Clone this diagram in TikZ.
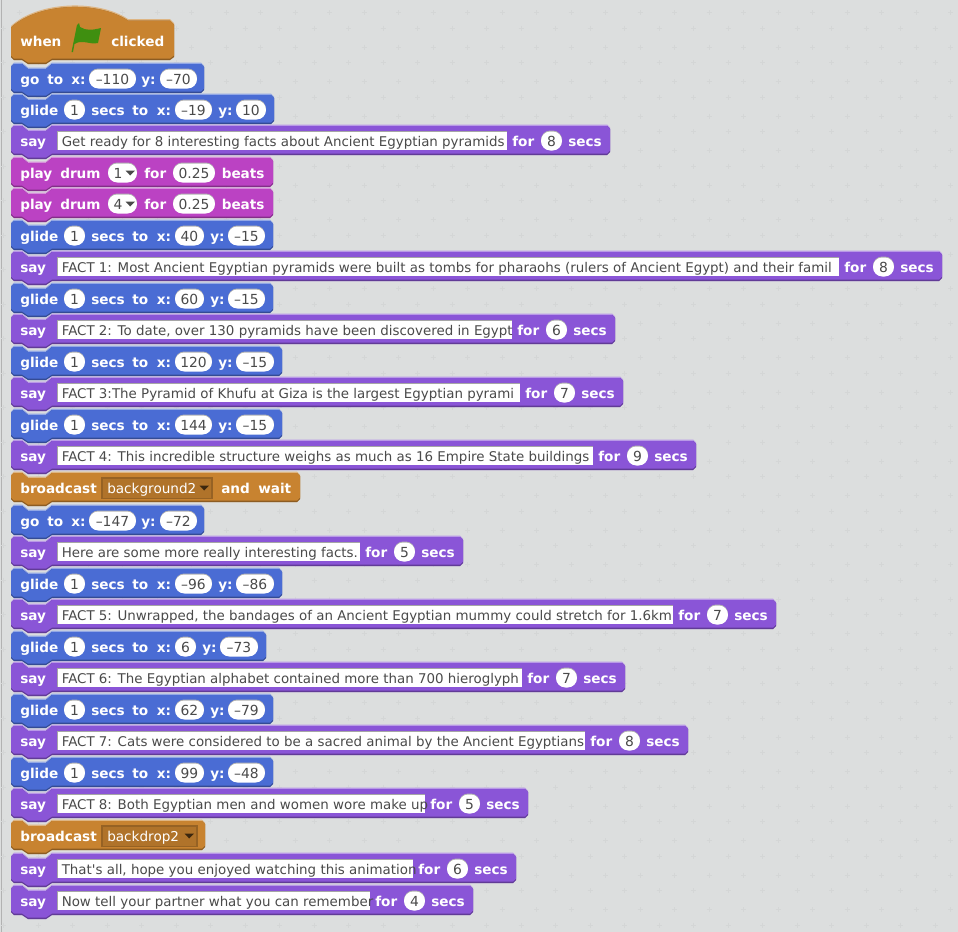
\documentclass[tikz,border=0pt]{standalone}
\usepackage{xcolor}
\usepackage{fontspec}
\usepackage{tikz}
\newfontfamily\blockfont{DejaVu Sans}
\definecolor{worksheet}{HTML}{DCDEDE}
\definecolor{plusmark}{HTML}{D4D6D6}
\definecolor{motion}{HTML}{4A6CD4}
\definecolor{looks}{HTML}{8A55D7}
\definecolor{sound}{HTML}{BB42C3}
\definecolor{events}{HTML}{C88330}
\definecolor{inputtext}{HTML}{4A4A4A}
\definecolor{flaggreen}{HTML}{3F8F10}

\tikzset{
  word/.style={font=\fontsize{10.2}{12}\blockfont\bfseries, text=white, anchor=base west, inner sep=0pt},
  longtext/.style={font=\fontsize{10.05}{12}\blockfont, text=inputtext, anchor=base west, inner sep=0pt},
  numtext/.style={font=\fontsize{10.4}{12}\blockfont, text=inputtext, anchor=base, inner sep=0pt},
  menutext/.style={font=\fontsize{10.2}{12}\blockfont, text=white, anchor=base west, inner sep=0pt}
}

% Umriss: oben, unten, rechts
\newcommand{\blockpath}[3]{(11,#1+3) -- (14,#1) -- (22,#1) -- (28,#1+5) -- (46,#1+5) -- (52,#1) -- (#3-3,#1) -- (#3,#1+3) -- (#3,#2-3) -- (#3-3,#2) -- (52,#2) -- (46,#2+4) -- (28,#2+4) -- (22,#2) -- (14,#2) -- (11,#2-3) -- cycle}
% Umriss Kopfblock: Versatz oben, unten
\newcommand{\hatpath}[2]{(11,26+#1) .. controls (38,1+#1) and (98,-1+#1) .. (128,19+#1) -- (170,19+#1) -- (174,23+#1) -- (174,#2-3) -- (170,#2) -- (52,#2) -- (46,#2+4) -- (28,#2+4) -- (22,#2) -- (14,#2) -- (11,#2-3) -- cycle}

% Block: Mitte, rechts, Farbe
\newcommand{\stackblock}[3]{
  \fill[#3!60!white] \blockpath{#1-16.5}{#1+14}{#2};
  \fill[#3!70!black] \blockpath{#1-15}{#1+14}{#2};
  \fill[#3] \blockpath{#1-15}{#1+12.5}{#2};
}
% Runde Eingabe: Name, links, rechts, Mitte, Text
\newcommand{\numinput}[5]{
  \fill[gray!60, rounded corners=7pt] (#2,#4-10.5) rectangle (#3,#4+8);
  \fill[white, rounded corners=7pt] (#2,#4-9.5) rectangle (#3,#4+9.5);
  \node[numtext] (#1) at ({(#2+#3)/2},#4+5) {#5};
}
% Textfeld-Zeile: Name, Mitte, Feldende, Text, Sekunden
\newcommand{\sayrow}[5]{
  \stackblock{#2}{#3+103}{looks}
  \node[word] (#1say) at (20,#2+5) {say};
  \fill[gray!70] (57,#2-10) rectangle (#3,#2+9);
  \fill[white] (58,#2-9) rectangle (#3,#2+9);
  \node[longtext] (#1text) at (61.5,#2+5) {#4};
  \node[word] (#1for) at (#3+5,#2+5) {for};
  \numinput{#1num}{#3+34}{#3+55}{#2}{#5}
  \node[word] (#1secs) at (#3+61,#2+5) {secs};
}
% Gleiten: Mitte / x-Wert / Ende x-Feld / y-Wert / Ende y-Feld
\newcommand{\gliderow}[5]{
  \stackblock{#1}{#5+8}{motion}
  \node[word] (glide#1) at (20,#1+5) {glide};
  \numinput{secsnum#1}{64}{85}{#1}{1}
  \node[word] (secs#1) at (91,#1+5) {secs};
  \node[word] (to#1) at (132,#1+5) {to};
  \node[word] (xlabel#1) at (156.5,#1+5) {x:};
  \numinput{xnum#1}{175}{#3}{#1}{#2}
  \node[word] (ylabel#1) at (#3+6,#1+5) {y:};
  \numinput{ynum#1}{#3+24}{#5}{#1}{#4}
}
% Gehe zu: Mitte / x-Wert / y-Wert
\newcommand{\gotorow}[3]{
  \stackblock{#1}{204}{motion}
  \node[word] (go#1) at (20,#1+5) {go};
  \node[word] (to#1) at (47,#1+5) {to};
  \node[word] (xlabel#1) at (71,#1+5) {x:};
  \numinput{xnum#1}{89}{136}{#1}{#2}
  \node[word] (ylabel#1) at (141,#1+5) {y:};
  \numinput{ynum#1}{160}{197}{#1}{#3}
}
% Trommel: Mitte, Nummer
\newcommand{\drumrow}[2]{
  \stackblock{#1}{273}{sound}
  \node[word] (play#1) at (20,#1+5) {play};
  \node[word] (drum#1) at (60,#1+5) {drum};
  \fill[gray!60, rounded corners=7pt] (108,#1-10.5) rectangle (137,#1+8);
  \fill[white, rounded corners=7pt] (108,#1-9.5) rectangle (137,#1+9.5);
  \node[numtext] (drumnum#1) at (118,#1+5) {#2};
  \fill[inputtext] (125.5,#1-2.5) -- (135,#1-2.5) -- (130.2,#1+2.5) -- cycle;
  \node[word] (for#1) at (144,#1+5) {for};
  \numinput{beatsnum#1}{173}{215}{#1}{0.25}
  \node[word] (beats#1) at (221.5,#1+5) {beats};
}
% Nachricht: Mitte, rechts, Feldende, Text
\newcommand{\broadcastrow}[4]{
  \stackblock{#1}{#2}{events}
  \node[word] (broadcast#1) at (20,#1+5) {broadcast};
  \fill[events!75!black] (101,#1-11) rectangle (#3,#1+11);
  \fill[events!88!black] (103,#1-9) rectangle (#3-2,#1+10);
  \node[menutext] (message#1) at (107,#1+5) {#4};
  \fill[black!70!events] (#3-13.5,#1-2.5) -- (#3-4,#1-2.5) -- (#3-8.8,#1+2.5) -- cycle;
}

\begin{document}
\begin{tikzpicture}[x=0.75pt, y=-0.75pt]

    \useasboundingbox (0,0) rectangle (958,932);

    % Arbeitsflaeche
    \fill[worksheet] (0,0) rectangle (958,932);
    \draw[gray!60, line width=0.75pt] (1,0) -- (1,932);
    \foreach \i in {0,...,27} {
        \foreach \j in {0,...,26} {
            \draw[plusmark, line width=0.75pt] (3.8+34.5*\i-2.5,28+34.5*\j) -- ++(5,0) (3.8+34.5*\i,28+34.5*\j-2.5) -- ++(0,5);
            \draw[plusmark, line width=0.75pt] (19+34.5*\i-2.5,12.8+34.5*\j) -- ++(5,0) (19+34.5*\i,12.8+34.5*\j-2.5) -- ++(0,5);
        }
    }

    % Kopfblock mit Fahne
    \fill[events!60!white] \hatpath{0}{60};
    \fill[events!70!black] \hatpath{1.5}{60};
    \fill[events] \hatpath{1.5}{58.5};
    \node[word] (when) at (20,46) {when};
    \fill[flaggreen] (71.5,52) -- (77,25) -- (79,23) -- (80,27) .. controls (86,31) and (93,30) .. (101,28) -- (98,43) .. controls (90,45) and (82,39) .. (74.5,44) -- (73,52) -- cycle;
    \node[word] (clicked) at (111,46) {clicked};

    % Bewegung und Sprechen
    \gotorow{79}{–110}{–70}
    \gliderow{110}{–19}{212}{10}{266}
    \sayrow{a}{141}{507}{Get ready for 8 interesting facts about Ancient Egyptian pyramids}{8}
    \drumrow{173}{1}
    \drumrow{204}{4}
    \gliderow{236}{40}{204}{–15}{265}
    \sayrow{b}{267}{839}{FACT 1: Most Ancient Egyptian pyramids were built as tombs for pharaohs (rulers of Ancient Egypt) and their famil}{8}
    \gliderow{299}{60}{204}{–15}{265}
    \sayrow{c}{330}{512}{FACT 2: To date, over 130 pyramids have been discovered in Egypt}{6}
    \gliderow{362}{120}{212}{–15}{274}
    \sayrow{d}{393}{520}{FACT 3:The Pyramid of Khufu at Giza is the largest Egyptian pyrami}{7}
    \gliderow{425}{144}{212}{–15}{274}
    \sayrow{e}{456}{593}{FACT 4: This incredible structure weighs as much as 16 Empire State buildings}{9}

    % Zweiter Teil
    \broadcastrow{488}{300}{213}{background2}
    \node[word] (and) at (221,493) {and};
    \node[word] (wait) at (258,493) {wait};
    \gotorow{521}{–147}{–72}
    \sayrow{f}{552}{360}{Here are some more really interesting facts.}{5}
    \gliderow{584}{–96}{212}{–86}{274}
    \sayrow{g}{615}{673}{FACT 5: Unwrapped, the bandages of an Ancient Egyptian mummy could stretch for 1.6km}{7}
    \gliderow{647}{6}{196}{–73}{258}
    \sayrow{h}{678}{522}{FACT 6: The Egyptian alphabet contained more than 700 hieroglyph}{7}
    \gliderow{710}{62}{204}{–79}{265}
    \sayrow{i}{741}{585}{FACT 7: Cats were considered to be a sacred animal by the Ancient Egyptians}{8}
    \gliderow{773}{99}{204}{–48}{265}
    \sayrow{j}{804}{425}{FACT 8: Both Egyptian men and women wore make up}{5}

    % Schluss
    \broadcastrow{836}{205}{198}{backdrop2}
    \sayrow{k}{869}{413}{That's all, hope you enjoyed watching this animation}{6}
    \sayrow{l}{901}{370}{Now tell your partner what you can remember}{4}

\end{tikzpicture}
\end{document}
